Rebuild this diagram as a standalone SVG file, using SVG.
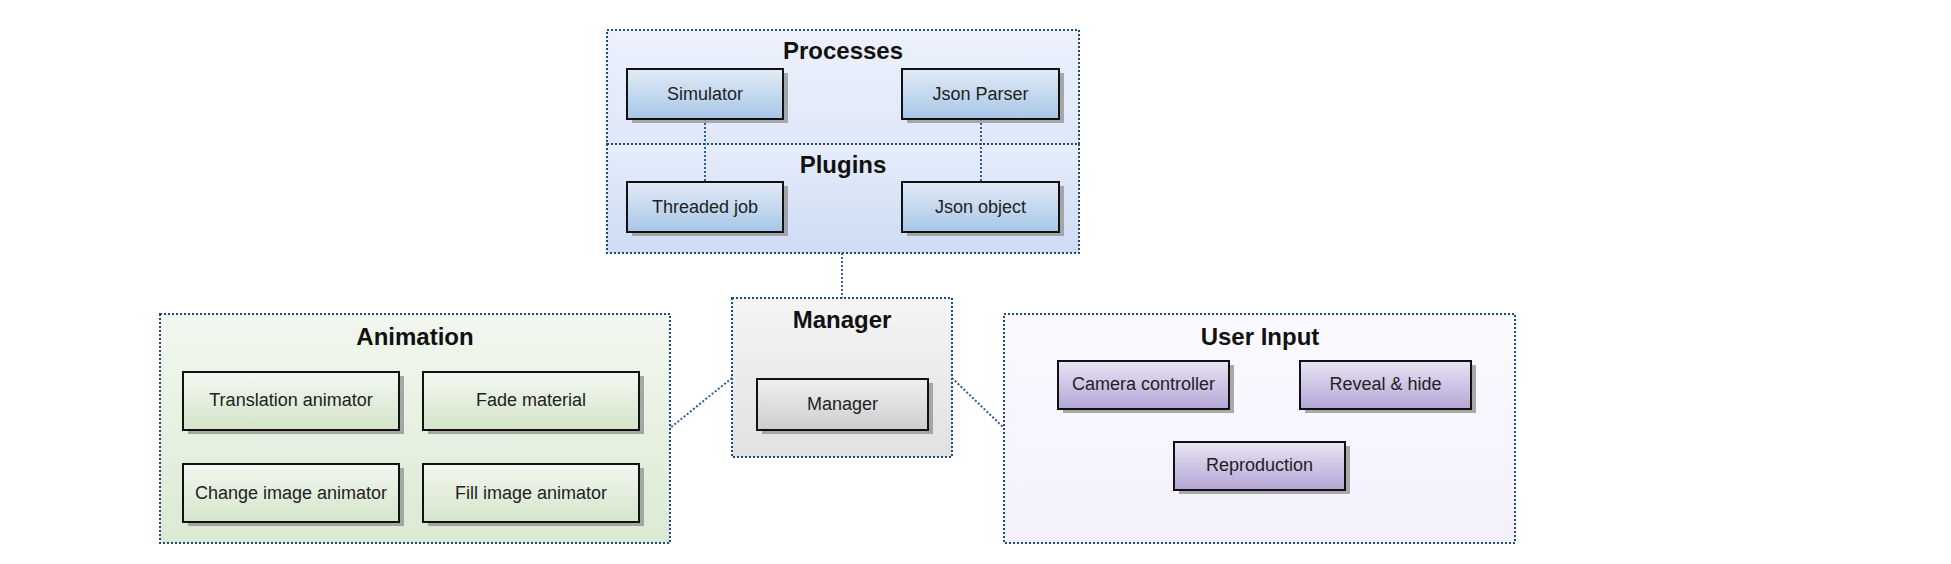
<svg xmlns="http://www.w3.org/2000/svg" width="1951" height="564" viewBox="0 0 1951 564">
  <defs>
    <linearGradient id="gProc" x1="0" y1="0" x2="0" y2="1">
      <stop offset="0" stop-color="#ecf1fc"/>
      <stop offset="1" stop-color="#dfe7f8"/>
    </linearGradient>
    <linearGradient id="gPlug" x1="0" y1="0" x2="0" y2="1">
      <stop offset="0" stop-color="#e6edfb"/>
      <stop offset="1" stop-color="#cddbf4"/>
    </linearGradient>
    <linearGradient id="gBlueNode" x1="0" y1="0" x2="0" y2="1">
      <stop offset="0" stop-color="#e2ebf6"/>
      <stop offset="1" stop-color="#a6c6e7"/>
    </linearGradient>
    <linearGradient id="gGreenBg" x1="0" y1="0" x2="0" y2="1">
      <stop offset="0" stop-color="#f2f7ef"/>
      <stop offset="1" stop-color="#dbead3"/>
    </linearGradient>
    <linearGradient id="gGreenNode" x1="0" y1="0" x2="0" y2="1">
      <stop offset="0" stop-color="#f3f7f0"/>
      <stop offset="1" stop-color="#d4e5cb"/>
    </linearGradient>
    <linearGradient id="gGrayBg" x1="0" y1="0" x2="0" y2="1">
      <stop offset="0" stop-color="#f5f5f5"/>
      <stop offset="1" stop-color="#e1e1e1"/>
    </linearGradient>
    <linearGradient id="gGrayNode" x1="0" y1="0" x2="0" y2="1">
      <stop offset="0" stop-color="#f0f0f0"/>
      <stop offset="1" stop-color="#cdcdcd"/>
    </linearGradient>
    <linearGradient id="gPurpleBg" x1="0" y1="0" x2="0" y2="1">
      <stop offset="0" stop-color="#fbfaff"/>
      <stop offset="1" stop-color="#f3f0fc"/>
    </linearGradient>
    <linearGradient id="gPurpleNode" x1="0" y1="0" x2="0" y2="1">
      <stop offset="0" stop-color="#e9e4f4"/>
      <stop offset="1" stop-color="#b3a6d5"/>
    </linearGradient>
  </defs>
  <style>
    .container { stroke: #1d4a86; stroke-width: 2; stroke-dasharray: 2 2; }
    .title { font-family: "Liberation Sans", Arial, sans-serif; font-size: 24px; font-weight: bold; fill: #111; text-anchor: middle; }
    .node { stroke: #111; stroke-width: 2; }
    .shadow { fill: #9a9a9a; opacity: 0.85; }
    .label { font-family: "Liberation Sans", Arial, sans-serif; font-size: 18px; fill: #222; text-anchor: middle; }
    .conn { fill: none; stroke: #2f5e9c; stroke-width: 2; stroke-dasharray: 2 2; }
  </style>
  <rect width="1951" height="564" fill="#ffffff"/>

  <g id="processes">
    <rect class="container" x="607" y="30" width="472" height="114" fill="url(#gProc)"/>
    <text class="title" x="843" y="59">Processes</text>
  </g>
  <g id="plugins">
    <rect class="container" x="607" y="144" width="472" height="109" fill="url(#gPlug)"/>
    <text class="title" x="843" y="173">Plugins</text>
  </g>
  <g id="manager-group">
    <rect class="container" x="732" y="298" width="220" height="159" fill="url(#gGrayBg)"/>
    <text class="title" x="842" y="328">Manager</text>
  </g>
  <g id="animation">
    <rect class="container" x="160" y="314" width="510" height="229" fill="url(#gGreenBg)"/>
    <text class="title" x="415" y="345">Animation</text>
  </g>
  <g id="user-input">
    <rect class="container" x="1004" y="314" width="511" height="229" fill="url(#gPurpleBg)"/>
    <text class="title" x="1260" y="345">User Input</text>
  </g>

  <g id="connectors">
    <line class="conn" x1="705" y1="119" x2="705" y2="182"/>
    <line class="conn" x1="981" y1="119" x2="981" y2="182"/>
    <line class="conn" x1="842" y1="253" x2="842" y2="298"/>
    <line class="conn" x1="732" y1="378" x2="670" y2="428"/>
    <line class="conn" x1="952" y1="378" x2="1004" y2="428"/>
  </g>

  <g id="simulator">
    <rect class="shadow" x="632" y="73" width="156" height="50"/>
    <rect class="node" x="627" y="69" width="156" height="50" fill="url(#gBlueNode)"/>
    <text class="label" x="705" y="100">Simulator</text>
  </g>
  <g id="json-parser">
    <rect class="shadow" x="907" y="73" width="157" height="50"/>
    <rect class="node" x="902" y="69" width="157" height="50" fill="url(#gBlueNode)"/>
    <text class="label" x="980.5" y="100">Json Parser</text>
  </g>
  <g id="threaded-job">
    <rect class="shadow" x="632" y="186" width="156" height="50"/>
    <rect class="node" x="627" y="182" width="156" height="50" fill="url(#gBlueNode)"/>
    <text class="label" x="705" y="213">Threaded job</text>
  </g>
  <g id="json-object">
    <rect class="shadow" x="907" y="186" width="157" height="50"/>
    <rect class="node" x="902" y="182" width="157" height="50" fill="url(#gBlueNode)"/>
    <text class="label" x="980.5" y="213">Json object</text>
  </g>

  <g id="manager">
    <rect class="shadow" x="762" y="383" width="171" height="51"/>
    <rect class="node" x="757" y="379" width="171" height="51" fill="url(#gGrayNode)"/>
    <text class="label" x="842.5" y="410">Manager</text>
  </g>

  <g id="translation-animator">
    <rect class="shadow" x="188" y="376" width="216" height="58"/>
    <rect class="node" x="183" y="372" width="216" height="58" fill="url(#gGreenNode)"/>
    <text class="label" x="291" y="406">Translation animator</text>
  </g>
  <g id="fade-material">
    <rect class="shadow" x="428" y="376" width="216" height="58"/>
    <rect class="node" x="423" y="372" width="216" height="58" fill="url(#gGreenNode)"/>
    <text class="label" x="531" y="406">Fade material</text>
  </g>
  <g id="change-image-animator">
    <rect class="shadow" x="188" y="468" width="216" height="58"/>
    <rect class="node" x="183" y="464" width="216" height="58" fill="url(#gGreenNode)"/>
    <text class="label" x="291" y="499">Change image animator</text>
  </g>
  <g id="fill-image-animator">
    <rect class="shadow" x="428" y="468" width="216" height="58"/>
    <rect class="node" x="423" y="464" width="216" height="58" fill="url(#gGreenNode)"/>
    <text class="label" x="531" y="499">Fill image animator</text>
  </g>

  <g id="camera-controller">
    <rect class="shadow" x="1063" y="365" width="171" height="48"/>
    <rect class="node" x="1058" y="361" width="171" height="48" fill="url(#gPurpleNode)"/>
    <text class="label" x="1143.5" y="390">Camera controller</text>
  </g>
  <g id="reveal-hide">
    <rect class="shadow" x="1305" y="365" width="171" height="48"/>
    <rect class="node" x="1300" y="361" width="171" height="48" fill="url(#gPurpleNode)"/>
    <text class="label" x="1385.5" y="390">Reveal &amp; hide</text>
  </g>
  <g id="reproduction">
    <rect class="shadow" x="1179" y="446" width="171" height="48"/>
    <rect class="node" x="1174" y="442" width="171" height="48" fill="url(#gPurpleNode)"/>
    <text class="label" x="1259.5" y="471">Reproduction</text>
  </g>
</svg>
